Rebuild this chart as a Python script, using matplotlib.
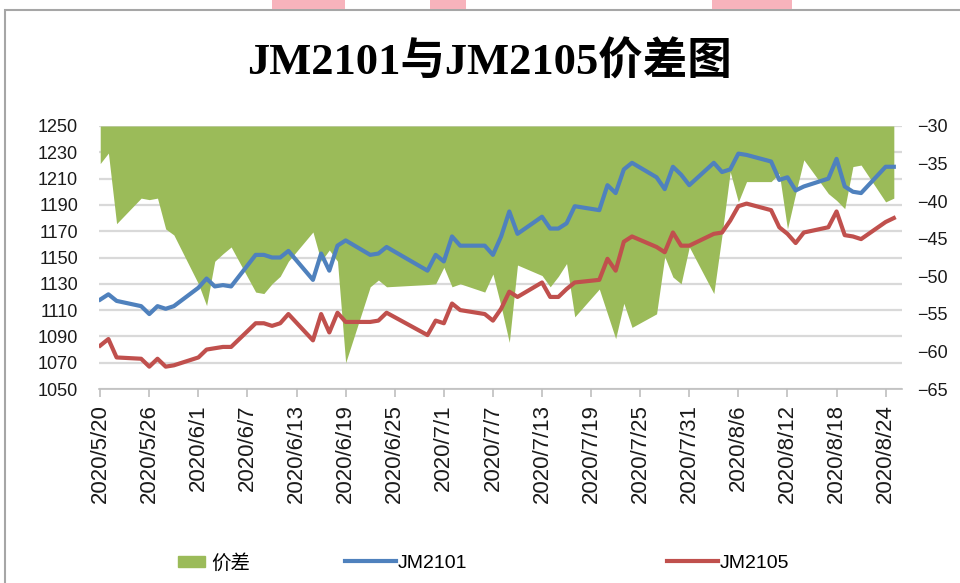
import matplotlib
matplotlib.use('Agg')
import matplotlib.pyplot as plt
import matplotlib.dates as mdates
from matplotlib.patches import Rectangle, Patch
from matplotlib.lines import Line2D
from matplotlib.ticker import FuncFormatter
import pandas as pd

# 交易日 (2020)
days = ['5/20', '5/21', '5/22', '5/25', '5/26', '5/27', '5/28', '5/29',
        '6/1', '6/2', '6/3', '6/4', '6/5', '6/8', '6/9', '6/10', '6/11', '6/12',
        '6/15', '6/16', '6/17', '6/18', '6/19', '6/22', '6/23', '6/24',
        '6/29', '6/30', '7/1', '7/2', '7/3', '7/6', '7/7', '7/8', '7/9', '7/10',
        '7/13', '7/14', '7/15', '7/16', '7/17', '7/20', '7/21', '7/22', '7/23', '7/24',
        '7/27', '7/28', '7/29', '7/30', '7/31', '8/3', '8/4', '8/5', '8/6', '8/7',
        '8/10', '8/11', '8/12', '8/13', '8/14', '8/17', '8/18', '8/19', '8/20', '8/21',
        '8/24', '8/25']

jm2101 = [1118, 1122, 1117, 1113, 1107, 1113, 1111, 1113,
          1127, 1134, 1128, 1129, 1128, 1152, 1152, 1150, 1150, 1155,
          1133, 1153, 1140, 1159, 1163, 1152, 1153, 1158,
          1140, 1152, 1147, 1166, 1159, 1159, 1152, 1166, 1185, 1168,
          1181, 1172, 1172, 1176, 1189, 1186, 1205, 1199, 1217, 1222,
          1211, 1202, 1219, 1213, 1205, 1222, 1215, 1217, 1229, 1228,
          1223, 1209, 1211, 1201, 1204, 1210, 1225, 1204, 1200, 1199,
          1219, 1219]

jm2105 = [1083, 1088, 1074, 1073, 1067, 1073, 1067, 1068,
          1074, 1080, 1081, 1082, 1082, 1100, 1100, 1098, 1100, 1107,
          1087, 1107, 1093, 1108, 1101, 1101, 1102, 1108,
          1091, 1102, 1100, 1115, 1110, 1107, 1102, 1111, 1124, 1120,
          1131, 1120, 1120, 1126, 1131, 1133, 1149, 1140, 1162, 1166,
          1158, 1154, 1169, 1159, 1159, 1168, 1169, 1178, 1189, 1191,
          1186, 1173, 1168, 1161, 1169, 1173, 1185, 1167, 1166, 1164,
          1177, 1180]

spread = [-35.0, -33.6, -43.0, -39.6, -39.8, -39.6, -43.7, -44.5,
          -51.0, -53.9, -48.0, -47.0, -46.1, -52.1, -52.3, -51.0, -50.0, -48.0,
          -44.1, -48.0, -46.5, -48.0, -61.5, -51.4, -50.5, -51.4,
          -51.1, -51.0, -48.8, -51.4, -51.0, -52.1, -49.7, -54.0, -58.8, -48.5,
          -49.9, -51.4, -50.0, -48.3, -55.4, -51.7, -55.0, -58.3, -53.6, -56.8,
          -55.0, -47.4, -50.1, -51.0, -46.1, -52.3, -44.5, -36.1, -40.1, -37.4,
          -37.4, -36.3, -43.7, -39.0, -34.5, -39.0, -39.9, -41.0, -35.4, -35.2,
          -40.1, -39.6]

x = pd.to_datetime(['2020/' + d for d in days], format='%Y/%m/%d')

plt.rcParams['font.family'] = ['Liberation Sans', 'Noto Sans CJK SC']

W, H = 960, 583
fig = plt.figure(figsize=(W / 100, H / 100), dpi=100)

# 外框
fig.patches.append(Rectangle((5 / W, -0.1), 1.2, 1.1 - 10 / H, transform=fig.transFigure,
                             fill=False, edgecolor='#A6A6A6', lw=1.5))
# 顶部水印
for x0, x1 in [(272, 345), (430, 466), (712, 792)]:
    fig.patches.append(Rectangle((x0 / W, 1 - 9 / H), (x1 - x0) / W, 9 / H,
                                 transform=fig.transFigure, color='#F7B3BC', lw=0))

ax = fig.add_axes([99 / W, 1 - 389 / H, 803 / W, 263 / H])
axf = ax.twinx()
axl = ax.twinx()

# 网格 (左轴)
ax.set_ylim(1050, 1250)
ax.set_yticks(range(1050, 1251, 20))
ax.grid(axis='y', color='#D9D9D9', lw=1.6)
ax.set_axisbelow(True)

# 价差面积 (右轴)
axf.set_ylim(-65, -30)
axf.set_yticks(range(-65, -29, 5))
axf.fill_between(x, spread, -30, color='#9BBB59', lw=0)

# 合约价格线
axl.set_ylim(1050, 1250)
axl.set_yticks([])
axl.plot(x, jm2101, color='#4F81BD', lw=3, solid_joinstyle='round')
axl.plot(x, jm2105, color='#C0504D', lw=3, solid_joinstyle='round')

for a in (ax, axf, axl):
    for s in a.spines.values():
        s.set_visible(False)
ax.spines['bottom'].set_visible(True)
ax.spines['bottom'].set_color('#BFBFBF')
ax.spines['bottom'].set_linewidth(1.2)

x0 = x[0]
ax.set_xlim(mdates.date2num(x0) - 0.15, mdates.date2num(x0) + 98)
ax.set_xticks(pd.date_range('2020-05-20', '2020-08-24', freq='6D'))
ax.xaxis.set_major_formatter(FuncFormatter(
    lambda v, p: '{0.year}/{0.month}/{0.day}'.format(mdates.num2date(v))))
ax.tick_params(axis='x', length=6, width=1.2, color='#BFBFBF', pad=5,
               labelsize=16, labelrotation=90, labelcolor='#1a1a1a')
ax.tick_params(axis='y', length=0, pad=15, labelsize=13, labelcolor='#1a1a1a')
axf.tick_params(axis='y', length=0, pad=11, labelsize=13, labelcolor='#1a1a1a')

fig.text(489 / W, 1 - 62 / H, 'JM2101与JM2105价差图', ha='center', va='center',
         fontsize=32, fontweight='bold', family=['Liberation Serif', 'Noto Sans CJK SC'],
         color='black')

# 图例
ly = 1 - 563 / H
fig.legend(handles=[Patch(color='#9BBB59', label='价差')], loc='center left',
           bbox_to_anchor=(178 / W, ly), frameon=False, fontsize=14,
           handlelength=1.4, handleheight=0.55, handletextpad=0.3,
           borderpad=0, borderaxespad=0)
fig.legend(handles=[Line2D([], [], color='#4F81BD', lw=3, label='JM2101')], loc='center left',
           bbox_to_anchor=(345 / W, ly), frameon=False, fontsize=14,
           handlelength=2.6, handletextpad=0.1, borderpad=0, borderaxespad=0)
fig.legend(handles=[Line2D([], [], color='#C0504D', lw=3, label='JM2105')], loc='center left',
           bbox_to_anchor=(667 / W, ly), frameon=False, fontsize=14,
           handlelength=2.6, handletextpad=0.1, borderpad=0, borderaxespad=0)

fig.savefig('out.png', dpi=100)
